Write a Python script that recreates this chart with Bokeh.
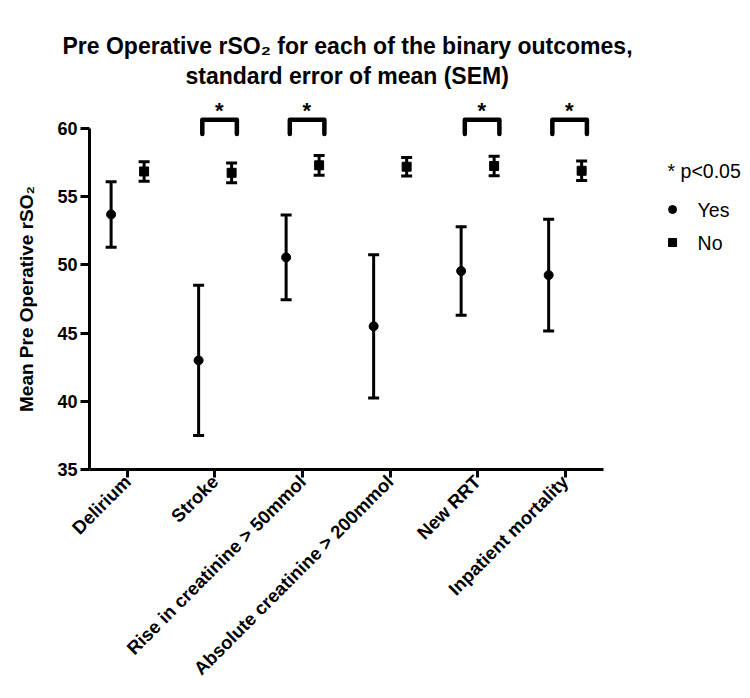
import math
from bokeh.plotting import figure
from bokeh.models import (ColumnDataSource, Range1d, FixedTicker, Whisker, TeeHead, Title)
from bokeh.core.properties import value
from bokeh.embed import file_html
from bokeh.resources import INLINE

# ---- data ----
categories = ["Delirium", "Stroke", "Rise in creatinine > 50mmol",
              "Absolute creatinine > 200mmol", "New RRT", "Inpatient mortality"]
yes_mean = [53.7, 43.0, 50.55, 45.5, 49.55, 49.25]
yes_sem = [2.4, 5.5, 3.1, 5.25, 3.25, 4.1]
no_mean = [56.85, 56.75, 57.3, 57.2, 57.25, 56.9]
no_sem = [0.72, 0.72, 0.72, 0.68, 0.72, 0.72]
significant = [False, True, True, False, True, True]
y_ticks = [35, 40, 45, 50, 55, 60]
title_lines = ["Pre Operative rSO\u2082  for each of the binary outcomes,",
               "standard error of mean (SEM)"]
legend_title = "* p<0.05"
legend_labels = ["Yes", "No"]

FONT = "'Liberation Sans', Arial, sans-serif"

# layout constants
W, H = 742, 690
LEFT, TOP, BOTTOM = 89, 128, 221
X0, X_AXIS_END = -0.434, 5.434          # x extent of the drawn axis
AXIS_PX = 513.5                          # pixel length of the drawn x axis
x_end = X0 + (X_AXIS_END - X0) * (W - LEFT) / AXIS_PX   # frame continues to the right for the key

idx = list(range(len(categories)))
yes_x = [i - 0.187 for i in idx]
no_x = [i + 0.19 for i in idx]

yes_src = ColumnDataSource(dict(x=yes_x, y=yes_mean,
                                lower=[m - s for m, s in zip(yes_mean, yes_sem)],
                                upper=[m + s for m, s in zip(yes_mean, yes_sem)]))
no_src = ColumnDataSource(dict(x=no_x, y=no_mean,
                               lower=[m - s for m, s in zip(no_mean, no_sem)],
                               upper=[m + s for m, s in zip(no_mean, no_sem)]))

p = figure(width=W, height=H, output_backend="svg", toolbar_location=None,
           x_range=Range1d(X0, x_end), y_range=Range1d(y_ticks[0], y_ticks[-1]),
           min_border_left=LEFT, min_border_right=0, min_border_top=TOP,
           min_border_bottom=BOTTOM)
p.outline_line_color = None
p.xgrid.visible = False
p.ygrid.visible = False
p.background_fill_color = "white"

# title: two centred lines (outer = first line)
p.title.text = title_lines[0]
p.title.align = "left"
p.title.offset = -27
p.title.text_font = FONT
p.title.text_font_size = "23px"
p.title.text_font_style = "bold"
p.title.text_color = "black"
p.title.standoff = 2
spacer = Title(text=" ", text_font_size="1px", standoff=36)
p.add_layout(spacer, "above")
t2 = Title(text=title_lines[1], align="left", offset=96, text_font=FONT,
           text_font_size="23px", text_font_style="bold", text_color="black", standoff=2)
p.add_layout(t2, "above")

# axes
for ax in (p.xaxis[0], p.yaxis[0]):
    ax.axis_line_width = 3
    ax.axis_line_color = "black"
    ax.major_tick_line_width = 3
    ax.major_tick_line_color = "black"
    ax.major_tick_in = 0
    ax.minor_tick_line_color = None
    ax.major_label_text_font = FONT
    ax.major_label_text_font_style = "bold"
    ax.major_label_text_color = "black"

p.yaxis.major_tick_out = 9
p.yaxis.ticker = FixedTicker(ticks=y_ticks)
p.yaxis.major_label_text_font_size = "18px"
p.yaxis.major_label_standoff = 3
p.yaxis.axis_label = "Mean Pre Operative rSO\u2082"
p.yaxis.axis_label_text_font = FONT
p.yaxis.axis_label_text_font_size = "19px"
p.yaxis.axis_label_text_font_style = "bold"
p.yaxis.axis_label_text_color = "black"
p.yaxis.axis_label_standoff = 17

p.xaxis.bounds = (X0, X_AXIS_END)
p.xaxis.major_tick_out = 8
p.xaxis.ticker = FixedTicker(ticks=idx)
p.xaxis.major_label_overrides = {i: c for i, c in zip(idx, categories)}
p.xaxis.major_label_orientation = math.pi / 4
p.xaxis.major_label_text_font_size = "18.5px"
p.xaxis.major_label_standoff = 1

# error bars
for src in (yes_src, no_src):
    w = Whisker(base="x", upper="upper", lower="lower", source=src,
                line_width=3, line_color="black",
                upper_head=TeeHead(size=11, line_width=3, line_color="black"),
                lower_head=TeeHead(size=11, line_width=3, line_color="black"))
    p.add_layout(w)

r_yes = p.scatter("x", "y", source=yes_src, marker="circle", size=9,
                  fill_color="black", line_color="black")
r_no = p.scatter("x", "y", source=no_src, marker="square", size=9,
                 fill_color="black", line_color="black")

# significance brackets
sig_idx = [i for i, s in zip(idx, significant) if s]
br_xs = [[i - 0.145, i - 0.145, i + 0.25, i + 0.25] for i in sig_idx]
br_ys = [[59.6, 60.65, 60.65, 59.6] for _ in sig_idx]
br = p.multi_line(br_xs, br_ys, line_width=4.5, line_color="black",
                  line_cap="round", line_join="round")
br.level = "overlay"
st = p.text(x=[i + 0.05 for i in sig_idx], y=[61.3] * len(sig_idx), text=["*"] * len(sig_idx),
            text_font=value(FONT), text_font_size="22px", text_font_style="bold",
            text_align="center", text_baseline="alphabetic", text_color="black")
st.level = "overlay"

# key, beside the drawn axes
LEG_X0 = 6.172      # left of key title
LEG_MX = 6.229      # marker centre
LEG_TX = 6.515      # label start
LEG_Y = [56.92, 54.06, 51.64]
p.text(x=[LEG_X0], y=[LEG_Y[0]], text=[legend_title], text_font=value(FONT),
       text_font_size="19.5px", text_align="left", text_baseline="middle",
       text_color="black")
p.scatter(x=[LEG_MX], y=[LEG_Y[1]], marker="circle", size=8,
          fill_color="black", line_color="black")
p.scatter(x=[LEG_MX], y=[LEG_Y[2]], marker="square", size=8,
          fill_color="black", line_color="black")
p.text(x=[LEG_TX, LEG_TX], y=LEG_Y[1:], text=legend_labels, text_font=value(FONT),
       text_font_size="19.5px", text_align="left", text_baseline="middle",
       text_color="black")

open("out.html", "w").write(file_html(p, INLINE))
